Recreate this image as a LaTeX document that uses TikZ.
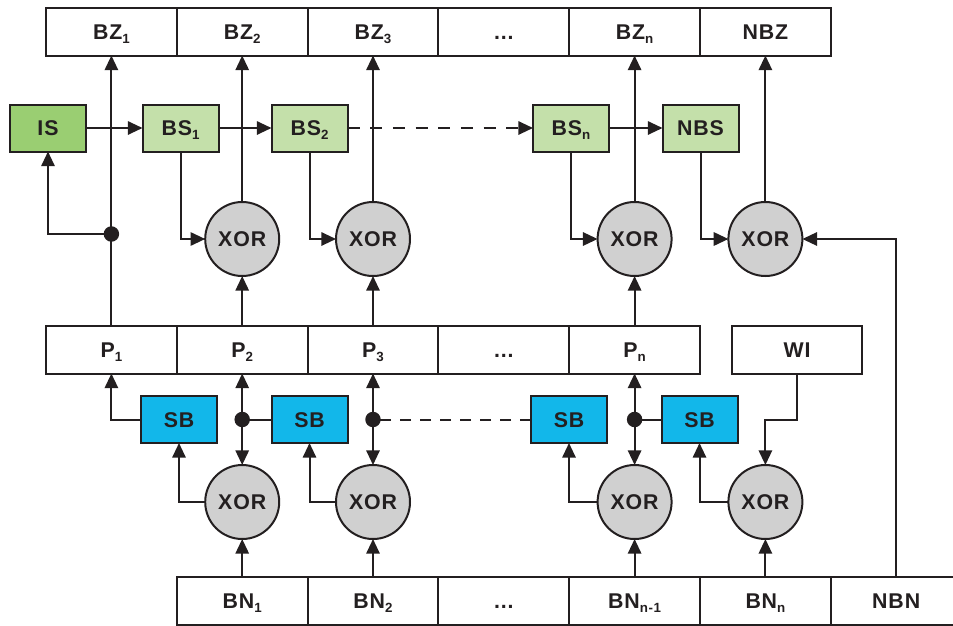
\documentclass[tikz,border=0pt]{standalone}
\usepackage{fontspec}
\setmainfont{Liberation Sans}[LetterSpace=4]
\usepackage{tikz}
\usetikzlibrary{arrows.meta,calc}

\definecolor{lineblack}{RGB}{35,31,32}
\definecolor{isgreen}{RGB}{154,206,114}
\definecolor{bsgreen}{RGB}{196,224,170}
\definecolor{sbcyan}{RGB}{18,183,234}
\definecolor{xorgray}{RGB}{208,208,208}

\newcommand{\lowidx}[1]{\raisebox{-3pt}{\fontsize{10}{10}\selectfont #1}}

\tikzset{
  cell/.style={draw, rectangle, minimum width=98.1pt, minimum height=36pt, outer sep=0pt,
    text height=11.5pt, text depth=0pt},
  keybox/.style={draw, rectangle, minimum width=57pt, minimum height=35.25pt, outer sep=0pt,
    text height=11.5pt, text depth=0pt},
  xorgate/.style={draw, circle, fill=xorgray, minimum size=55.5pt, inner sep=0pt, outer sep=0pt,
    text height=11.5pt, text depth=0pt},
  link/.style={-{Triangle[length=11pt,width=10pt]}},
  dashlink/.style={link, dash pattern=on 9pt off 8pt}
}

\begin{document}
\begin{tikzpicture}[x=0.75pt, y=-0.75pt, line width=1.5pt, color=lineblack,
    font=\fontsize{16}{19}\selectfont\bfseries]
        \useasboundingbox (0,0) rectangle (953,625);

        % Output row
        \node[cell] (bz1) at (111.4,31.5) {BZ\lowidx{1}};
        \node[cell] (bz2) at (242.2,31.5) {BZ\lowidx{2}};
        \node[cell] (bz3) at (373,31.5) {BZ\lowidx{3}};
        \node[cell] (bzdots) at (503.8,31.5) {...};
        \node[cell] (bzn) at (634.6,31.5) {BZ\lowidx{n}};
        \node[cell] (nbz) at (765.4,31.5) {NBZ};

        % Key chain
        \node[keybox, fill=isgreen] (is) at (48,128) {IS};
        \node[keybox, fill=bsgreen] (bs1) at (180.5,128) {BS\lowidx{1}};
        \node[keybox, fill=bsgreen] (bs2) at (309.5,128) {BS\lowidx{2}};
        \node[keybox, fill=bsgreen] (bsn) at (571,128) {BS\lowidx{n}};
        \node[keybox, fill=bsgreen] (nbs) at (700.5,128) {NBS};

        % Upper XOR gates
        \node[xorgate] (xu1) at (242.2,239) {XOR};
        \node[xorgate] (xu2) at (373,239) {XOR};
        \node[xorgate] (xu3) at (634.6,239) {XOR};
        \node[xorgate] (xu4) at (765.4,239) {XOR};

        % Middle row
        \node[cell] (p1) at (111.4,349.5) {P\lowidx{1}};
        \node[cell] (p2) at (242.2,349.5) {P\lowidx{2}};
        \node[cell] (p3) at (373,349.5) {P\lowidx{3}};
        \node[cell] (pdots) at (503.8,349.5) {...};
        \node[cell] (pn) at (634.6,349.5) {P\lowidx{n}};
        \node[cell] (wi) at (797,349.5) {WI};

        % S-boxes
        \node[keybox, fill=sbcyan] (sb1) at (179,419.5) {SB};
        \node[keybox, fill=sbcyan] (sb2) at (309.5,419.5) {SB};
        \node[keybox, fill=sbcyan] (sb3) at (569,419.5) {SB};
        \node[keybox, fill=sbcyan] (sb4) at (699.5,419.5) {SB};

        % Lower XOR gates
        \node[xorgate] (xl1) at (242.2,502) {XOR};
        \node[xorgate] (xl2) at (373,502) {XOR};
        \node[xorgate] (xl3) at (634.6,502) {XOR};
        \node[xorgate] (xl4) at (765.4,502) {XOR};

        % Input row
        \node[cell] (bn1) at (242.2,600.5) {BN\lowidx{1}};
        \node[cell] (bn2) at (373,600.5) {BN\lowidx{2}};
        \node[cell] (bndots) at (503.8,600.5) {...};
        \node[cell] (bnm) at (634.6,600.5) {BN\lowidx{n-1}};
        \node[cell] (bnn) at (765.4,600.5) {BN\lowidx{n}};
        \node[cell] (nbn) at (896.2,600.5) {NBN};

        % Key chain links
        \draw[link] (is.east) -- (bs1.west);
        \draw[link] (bs1.east) -- (bs2.west);
        \draw[dashlink] (bs2.east) -- (bsn.west);
        \draw[link] (bsn.east) -- (nbs.west);

        % Upper half
        \coordinate (d1) at (p1.north |- 0,234);
        \draw[link] (p1.north) -- (bz1.south);
        \draw[link] (d1) -| (is.south);
        \fill (d1) circle[radius=5.8pt];

        \draw[link] (bs1.south) |- (xu1.west);
        \draw[link] (bs2.south) |- (xu2.west);
        \draw[link] (bsn.south) |- (xu3.west);
        \draw[link] (nbs.south) |- (xu4.west);

        \draw[link] (xu1.north) -- (bz2.south);
        \draw[link] (xu2.north) -- (bz3.south);
        \draw[link] (xu3.north) -- (bzn.south);
        \draw[link] (xu4.north) -- (nbz.south);

        \draw[link] (p2.north) -- (xu1.south);
        \draw[link] (p3.north) -- (xu2.south);
        \draw[link] (pn.north) -- (xu3.south);
        \draw[link] (nbn.north) |- (xu4.east);

        % Lower half
        \coordinate (d2) at (p2.south |- sb2.west);
        \coordinate (d3) at (p3.south |- sb3.west);
        \coordinate (d4) at (pn.south |- sb4.west);

        \draw[link] (sb1.west) -| (p1.south);
        \draw (sb2.west) -- (d2);
        \draw[dash pattern=on 8pt off 7pt] (sb3.west) -- (d3);
        \draw (sb4.west) -- (d4);

        \draw[link] (d2) -- (p2.south);
        \draw[link] (d2) -- (xl1.north);
        \draw[link] (d3) -- (p3.south);
        \draw[link] (d3) -- (xl2.north);
        \draw[link] (d4) -- (pn.south);
        \draw[link] (d4) -- (xl3.north);
        \fill (d2) circle[radius=5.8pt];
        \fill (d3) circle[radius=5.8pt];
        \fill (d4) circle[radius=5.8pt];

        \draw[link] (xl1.west) -| (sb1.south);
        \draw[link] (xl2.west) -| (sb2.south);
        \draw[link] (xl3.west) -| (sb3.south);
        \draw[link] (xl4.west) -| (sb4.south);
        \draw[link] (wi.south) -- (wi.south |- sb4.east) -| (xl4.north);

        \draw[link] (bn1.north) -- (xl1.south);
        \draw[link] (bn2.north) -- (xl2.south);
        \draw[link] (bnm.north) -- (xl3.south);
        \draw[link] (bnn.north) -- (xl4.south);

    \end{tikzpicture}
\end{document}
